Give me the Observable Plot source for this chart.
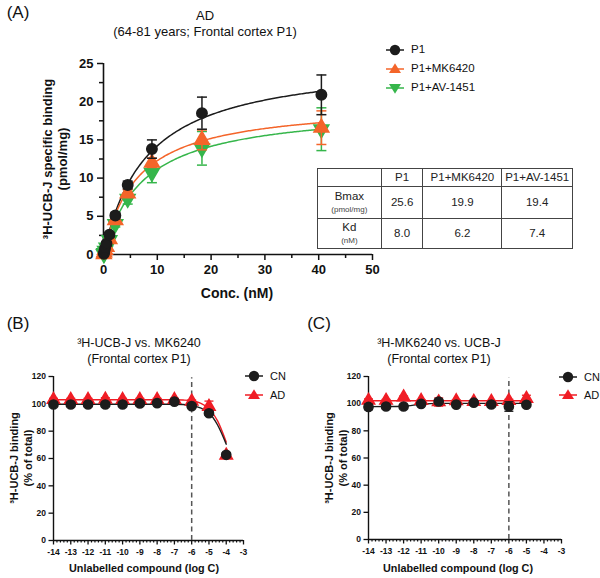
<!DOCTYPE html>
<html><head><meta charset="utf-8">
<script src="https://cdn.jsdelivr.net/npm/d3@7"></script>
<script src="https://cdn.jsdelivr.net/npm/@observablehq/plot@0.6"></script>
<style>
body{margin:0;background:#fff;font-family:"Liberation Sans",Arial,sans-serif;color:#111}
#root{position:relative;width:600px;height:578px;overflow:hidden;background:#fff}
.t{position:absolute;white-space:nowrap;line-height:1}
.pl{position:absolute}
table.tb{position:absolute;border-collapse:collapse;font-size:11.5px;color:#222}
table.tb td{border:1.5px solid #444;text-align:center;padding:0;line-height:1.05}
table.tb small{font-size:8px;color:#444}
</style></head><body><div id="root"></div>
<script>
// ---------- Panel A data ----------
const concA   = [0.07, 0.14, 0.28, 0.56, 1.1, 2.2, 4.5, 9.0, 18.3, 40.5];
const p1Mean  = [0.1, 0.35, 0.8, 1.4, 2.6, 5.1, 9.1, 13.8, 18.5, 20.9];
const p1Err   = [0.1, 0.1, 0.2, 0.3, 0.3, 0.4, 0.5, 1.2, 2.1, 2.6];
const mkMean  = [0.05, 0.25, 0.6, 1.0, 2.0, 4.5, 8.0, 12.0, 15.0, 16.6];
const mkErr   = [0.1, 0.1, 0.2, 0.3, 0.3, 0.4, 0.5, 0.6, 1.3, 2.2];
const avMean  = [0.05, 0.2, 0.5, 0.9, 1.9, 4.0, 7.3, 10.7, 13.9, 16.4];
const avErr   = [0.1, 0.1, 0.2, 0.3, 0.3, 0.4, 0.7, 1.3, 2.2, 2.8];
const seriesA = ["P1", "P1+MK6420", "P1+AV-1451"];
const bmaxA   = [25.6, 19.9, 19.4];
const kdA     = [8.0, 6.2, 7.4];
const xTicksA = [0, 10, 20, 30, 40, 50];
const xMinorA = [5, 15, 25, 35, 45];
const yTicksA = [0, 5, 10, 15, 20, 25];
const yMinorA = [2.5, 7.5, 12.5, 17.5, 22.5];

// ---------- Panel B data ----------
const logC_B   = [-14, -13, -12, -11, -10, -9, -8, -7, -6, -5, -4];
const cnB      = [99.5, 99.5, 99.5, 99.5, 99.5, 100.3, 100.5, 101.6, 98.3, 93.1, 62.7];
const cnErrB   = [0.8, 0.8, 0.8, 0.8, 0.8, 0.8, 0.8, 1.0, 1.0, 1.5, 1.5];
const adB      = [103, 103, 103, 103.3, 103, 103, 103, 103, 101.8, 98, 62.3];
const adErrB   = [1.0, 1.0, 1.0, 1.2, 1.0, 1.0, 1.0, 1.0, 1.0, 4.0, 1.0];
const fitX_B   = [-14, -7, -6.5, -6, -5.5, -5, -4.5, -4];
const fitCN_B  = [99.7, 99.7, 99.5, 98.8, 97, 93.5, 84.5, 70.5];
const fitAD_B  = [103, 103, 102.8, 102.3, 100.6, 96.5, 87.5, 72];

// ---------- Panel C data ----------
const logC_C   = [-14, -13, -12, -11, -10, -9, -8, -7, -6, -5];
const cnC      = [97.6, 97.9, 97.9, 99.8, 101.6, 99.3, 100.7, 99.4, 97.9, 99.2];
const cnErrC   = [2.0, 0.8, 0.8, 0.8, 1.0, 0.8, 0.8, 0.8, 3.5, 0.8];
const adC      = [102.3, 102.3, 104.8, 102.2, 101.2, 102, 101.5, 101.5, 102.2, 103.7];
const adErrC   = [1.2, 0.8, 0.8, 0.8, 3.0, 0.8, 0.8, 0.8, 1.0, 2.5];
const fitX_C   = [-14, -12, -11, -10, -5];
const fitCN_C  = [97.8, 98.1, 99.6, 100.2, 100.2];
const fitAD_C  = [102.2, 102.2, 102.2, 102.2, 102.2];

const xTicksBC = [-14, -13, -12, -11, -10, -9, -8, -7, -6, -5, -4, -3];
const xMinorBC = d3.range(-14, -3).flatMap(v => [0.2, 0.4, 0.6, 0.8].map(o => v + o));
const yTicksBC = [0, 20, 40, 60, 80, 100, 120];

// ---------- colours ----------
const BLACK = "#1c1c1c", ORANGE = "#f4652a", GREEN = "#36b64b", RED = "#f01d25";
const colA = [BLACK, ORANGE, GREEN];

const root = document.getElementById("root");
const FONT = "'Liberation Sans', Arial, sans-serif";

const cap = {draw(ctx, size){ const w = Math.sqrt(size / Math.PI); ctx.moveTo(-w, 0); ctx.lineTo(w, 0); }};

function rows(xs, ys, es){ return xs.map((x, i) => ({x, y: ys[i], lo: ys[i] - (es ? es[i] : 0), hi: ys[i] + (es ? es[i] : 0)})); }

function errMarks(data, color, capR, sw){
  return [
    Plot.ruleX(data, {x: "x", y1: "lo", y2: "hi", stroke: color, strokeWidth: sw}),
    Plot.dot(data, {x: "x", y: "hi", symbol: cap, r: capR, fill: "none", stroke: color, strokeWidth: sw}),
    Plot.dot(data, {x: "x", y: "lo", symbol: cap, r: capR, fill: "none", stroke: color, strokeWidth: sw})
  ];
}

function place(svg, left, top){ svg.classList.add("pl"); svg.style.left = left + "px"; svg.style.top = top + "px"; root.appendChild(svg); }

function txt(x, y, html, css, rot){
  const d = document.createElement("div");
  d.className = "t";
  d.innerHTML = html;
  d.style.cssText += css;
  d.style.left = x + "px"; d.style.top = y + "px";
  d.style.transform = "translate(-50%,-50%)" + (rot ? " rotate(-90deg)" : "");
  root.appendChild(d);
}

// ---------- Panel A ----------
const fitsA = seriesA.flatMap((s, k) => {
  const xs = d3.range(0, 40.5 + 1e-9, 0.25);
  return xs.map(x => ({s, x, y: bmaxA[k] * x / (kdA[k] + x)}));
});
const dataA = [rows(concA, p1Mean, p1Err), rows(concA, mkMean, mkErr), rows(concA, avMean, avErr)];

const plotA = Plot.plot({
  width: 600, height: 300,
  marginLeft: 103, marginRight: 228, marginTop: 63, marginBottom: 46,
  x: {domain: [0, 50]}, y: {domain: [0, 25]},
  style: {fontFamily: FONT, background: "transparent", overflow: "visible", color: "#111"},
  marks: [
    Plot.axisX({ticks: xMinorA, tickSize: 4, tickFormat: () => "", strokeWidth: 1.5, label: null}),
    Plot.axisX({ticks: xTicksA, tickSize: 6, tickPadding: 4, fontSize: 13, fontWeight: "bold", strokeWidth: 1.5, label: null, tickFormat: d => d}),
    Plot.axisY({ticks: yMinorA, tickSize: 4, tickFormat: () => "", strokeWidth: 1.5, label: null}),
    Plot.axisY({ticks: yTicksA, tickSize: 6, tickPadding: 4, fontSize: 13, fontWeight: "bold", strokeWidth: 1.5, label: null, tickFormat: d => d}),
    Plot.ruleX([0], {stroke: "#111", strokeWidth: 1.6}),
    Plot.ruleY([0], {stroke: "#111", strokeWidth: 1.6}),
    Plot.line(fitsA, {x: "x", y: "y", z: "s", stroke: d => colA[seriesA.indexOf(d.s)], strokeWidth: 1.5}),
    ...errMarks(dataA[2], GREEN, 5, 1.5),
    Plot.dot(dataA[2], {x: "x", y: "y", symbol: "triangle", rotate: 180, r: 5.5, fill: GREEN, stroke: GREEN}),
    ...errMarks(dataA[1], ORANGE, 5, 1.5),
    Plot.dot(dataA[1], {x: "x", y: "y", symbol: "triangle", r: 5.5, fill: ORANGE, stroke: ORANGE}),
    ...errMarks(dataA[0], BLACK, 5, 1.5),
    Plot.dot(dataA[0], {x: "x", y: "y", r: 5.2, fill: BLACK, stroke: BLACK})
  ]
});
place(plotA, 0, 0);

// ---------- Panel B / C ----------
function compPlot(xs, cn, cnE, ad, adE, fx, fcn, fad, margins){
  const cnD = rows(xs, cn, cnE), adD = rows(xs, ad, adE);
  const fitCN = fx.map((x, i) => ({x, y: fcn[i]})), fitAD = fx.map((x, i) => ({x, y: fad[i]}));
  return Plot.plot({
    width: 300, height: 278, ...margins,
    x: {domain: [-14, -3]}, y: {domain: [0, 120]},
    style: {fontFamily: FONT, background: "transparent", overflow: "visible", color: "#111"},
    marks: [
      Plot.axisX({ticks: xMinorBC, tickSize: 2.5, tickFormat: () => "", strokeWidth: 1.2, label: null}),
      Plot.axisX({ticks: xTicksBC, tickSize: 4.5, tickPadding: 4, fontSize: 8.5, fontWeight: "bold", strokeWidth: 1.3, label: null, tickFormat: d => d}),
      Plot.axisY({ticks: yTicksBC, tickSize: 4.5, tickPadding: 3, fontSize: 8.5, fontWeight: "bold", strokeWidth: 1.3, label: null, tickFormat: d => d}),
      Plot.ruleX([-14], {stroke: "#111", strokeWidth: 1.4}),
      Plot.ruleY([0], {stroke: "#111", strokeWidth: 1.4}),
      Plot.ruleX([-6], {y1: 0, y2: 119, stroke: "#555", strokeWidth: 1.5, strokeDasharray: "5,3.5"}),
      Plot.line(fitAD, {x: "x", y: "y", stroke: RED, strokeWidth: 1.4, curve: "monotone-x"}),
      Plot.line(fitCN, {x: "x", y: "y", stroke: BLACK, strokeWidth: 1.4, curve: "monotone-x"}),
      ...errMarks(adD, RED, 4.5, 1.3),
      Plot.dot(adD, {x: "x", y: "y", symbol: "triangle", r: 4.6, fill: RED, stroke: RED}),
      ...errMarks(cnD, BLACK, 4.5, 1.3),
      Plot.dot(cnD, {x: "x", y: "y", r: 4.6, fill: BLACK, stroke: BLACK})
    ]
  });
}
place(compPlot(logC_B, cnB, cnErrB, adB, adErrB, fitX_B, fitCN_B, fitAD_B,
  {marginLeft: 53, marginRight: 57, marginTop: 76, marginBottom: 38}), 0, 300);
place(compPlot(logC_C, cnC, cnErrC, adC, adErrC, fitX_C, fitCN_C, fitAD_C,
  {marginLeft: 68, marginRight: 39, marginTop: 76, marginBottom: 39}), 300, 300);

// ---------- texts ----------
const PANEL = "font-size:17px;";
txt(18, 12, "(A)", PANEL);
txt(18, 323, "(B)", PANEL);
txt(319, 323, "(C)", PANEL);

txt(205, 15, "AD", "font-size:13px;");
txt(205, 31, "(64-81 years; Frontal cortex P1)", "font-size:13px;");
txt(47, 159, "³H-UCB-J specific binding", "font-size:13px;font-weight:bold;", true);
txt(62, 159, "(pmol/mg)", "font-size:13px;font-weight:bold;", true);
txt(237, 293, "Conc. (nM)", "font-size:14px;font-weight:bold;");

txt(139, 343, "³H-UCB-J vs. MK6240", "font-size:12.5px;");
txt(139, 359, "(Frontal cortex P1)", "font-size:12.5px;");
txt(439, 343, "³H-MK6240 vs. UCB-J", "font-size:12.5px;");
txt(439, 359, "(Frontal cortex P1)", "font-size:12.5px;");

txt(14, 458, "³H-UCB-J binding", "font-size:11px;font-weight:bold;", true);
txt(28, 458, "(% of total)", "font-size:11px;font-weight:bold;", true);
txt(329, 458, "³H-UCB-J binding", "font-size:11px;font-weight:bold;", true);
txt(343, 458, "(% of total)", "font-size:11px;font-weight:bold;", true);
txt(144, 568, "Unlabelled compound (log C)", "font-size:10.8px;font-weight:bold;");
txt(458, 568, "Unlabelled compound (log C)", "font-size:10.8px;font-weight:bold;");

// ---------- legends ----------
function legend(x, y, label, color, sym, fs){
  const d = document.createElement("div");
  d.className = "t";
  d.style.left = x + "px"; d.style.top = (y - 8) + "px";
  d.style.display = "flex"; d.style.alignItems = "center";
  const w = 22;
  let shape;
  if (sym === "circle") shape = `<circle cx="11" cy="8" r="5.2" fill="${color}"/>`;
  else if (sym === "up") shape = `<path d="M11,2.2 L17,12 L5,12 Z" fill="${color}"/>`;
  else shape = `<path d="M11,13.8 L17,4 L5,4 Z" fill="${color}"/>`;
  d.innerHTML = `<svg width="${w}" height="16"><line x1="2" y1="8" x2="20" y2="8" stroke="${color}" stroke-width="1.5"/>${shape}</svg><span style="font-size:${fs}px;margin-left:5px">${label}</span>`;
  root.appendChild(d);
}
legend(384, 50, seriesA[0], BLACK, "circle", 11.5);
legend(384, 69, seriesA[1], ORANGE, "up", 11.5);
legend(384, 88, seriesA[2], GREEN, "down", 11.5);
legend(243, 376, "CN", BLACK, "circle", 11);
legend(243, 395, "AD", RED, "up", 11);
legend(557, 377, "CN", BLACK, "circle", 11);
legend(557, 395, "AD", RED, "up", 11);

// ---------- table ----------
const tb = document.createElement("table");
tb.className = "tb";
tb.style.left = "317px"; tb.style.top = "168px"; tb.style.width = "256px"; tb.style.height = "80px";
const fmt = d3.format(".1f");
tb.innerHTML = `
<colgroup><col style="width:64px"><col style="width:42px"><col style="width:79px"><col style="width:71px"></colgroup>
<tr style="height:18px"><td></td>${seriesA.map(s => `<td>${s}</td>`).join("")}</tr>
<tr style="height:32px"><td>Bmax<br><small>(pmol/mg)</small></td>${bmaxA.map(v => `<td>${fmt(v)}</td>`).join("")}</tr>
<tr style="height:30px"><td>Kd<br><small>(nM)</small></td>${kdA.map(v => `<td>${fmt(v)}</td>`).join("")}</tr>`;
root.appendChild(tb);
</script>
</body></html>
